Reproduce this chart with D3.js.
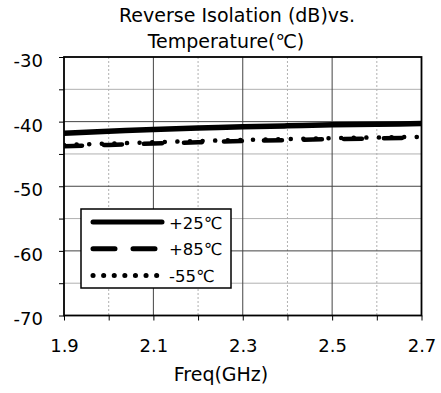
<!DOCTYPE html>
<html><head><meta charset="utf-8">
<script src="https://cdn.jsdelivr.net/npm/d3@7/dist/d3.min.js"></script>
<style>body{margin:0;background:#fff}svg{display:block}text{font-family:"DejaVu Sans",Verdana,sans-serif;fill:#000}</style>
</head><body><svg id="c" width="441" height="393"></svg>
<script>
const freq = [1.9, 2.0, 2.1, 2.2, 2.3, 2.4, 2.5, 2.6, 2.7];
const s25 = [-41.8, -41.5, -41.2, -41.0, -40.8, -40.65, -40.5, -40.4, -40.3];
const s85 = [-43.8, -43.6, -43.4, -43.2, -43.0, -42.85, -42.7, -42.6, -42.5];
const sm55 = [-43.6, -43.4, -43.2, -43.0, -42.85, -42.7, -42.55, -42.45, -42.35];
const seriesNames = ["+25℃", "+85℃", "-55℃"];
const xTicks = [1.9, 2.1, 2.3, 2.5, 2.7];
const yTicks = [-30, -40, -50, -60, -70];
const titleLines = ["Reverse Isolation (dB)vs.", "Temperature(℃)"];
const xLabel = "Freq(GHz)";

const svg = d3.select("#c");
const L = 64, R = 421.5, T = 57, B = 315.5;
const x = d3.scaleLinear().domain([1.9, 2.7]).range([L, R]);
const y = d3.scaleLinear().domain([-70, -30]).range([B, T]);
const FF = '"DejaVu Sans",Verdana,sans-serif';

// minor horizontal grid
svg.append("g").selectAll("line").data(d3.range(-65, -30, 10)).join("line")
  .attr("x1", L).attr("x2", R).attr("y1", d => y(d)).attr("y2", d => y(d))
  .attr("stroke", "#b0b0b0").attr("stroke-width", 1);
// minor vertical dotted
svg.append("g").selectAll("line").data([2.0, 2.2, 2.4, 2.6]).join("line")
  .attr("x1", d => x(d)).attr("x2", d => x(d)).attr("y1", T).attr("y2", B)
  .attr("stroke", "#b0b0b0").attr("stroke-width", 1).attr("stroke-dasharray", "2,2");
// major grid
svg.append("g").selectAll("line").data([-40, -50, -60]).join("line")
  .attr("x1", L).attr("x2", R).attr("y1", d => y(d)).attr("y2", d => y(d))
  .attr("stroke", "#444").attr("stroke-width", 1);
svg.append("g").selectAll("line").data([2.1, 2.3, 2.5]).join("line")
  .attr("x1", d => x(d)).attr("x2", d => x(d)).attr("y1", T).attr("y2", B)
  .attr("stroke", "#444").attr("stroke-width", 1);

// axes
const yAxis = d3.axisLeft(y).tickValues(d3.range(-70, -29, 5)).tickSize(5)
  .tickFormat(d => yTicks.includes(d) ? d : "");
const gy = svg.append("g").attr("transform", `translate(${L},0)`).call(yAxis);
gy.select(".domain").remove();
gy.selectAll("line").attr("stroke", "#000");
gy.selectAll("text").attr("font-size", 18).attr("x", -21).attr("dy", "0.52em").style("font-family", FF);

const xAxis = d3.axisBottom(x).tickValues(d3.range(0, 9).map(i => 1.9 + i * 0.1)).tickSize(5)
  .tickFormat(d => xTicks.some(t => Math.abs(t - d) < 1e-6) ? d.toFixed(1) : "");
const gx = svg.append("g").attr("transform", `translate(0,${B})`).call(xAxis);
gx.select(".domain").remove();
gx.selectAll("line").attr("stroke", "#000");
gx.selectAll("text").attr("font-size", 18).attr("y", 24).style("font-family", FF);

// series
const line = d3.line().x((d, i) => x(freq[i])).y(d => y(d)).curve(d3.curveMonotoneX);
svg.append("clipPath").attr("id", "pc").append("rect").attr("x", L).attr("y", T).attr("width", R - L).attr("height", B - T);
const gs = svg.append("g").attr("clip-path", "url(#pc)");
gs.append("path").attr("d", line(s85)).attr("fill", "none").attr("stroke", "#000").attr("stroke-width", 4.5)
  .attr("stroke-linecap", "round").attr("stroke-dasharray", "18,22");
gs.append("path").attr("d", line(sm55)).attr("fill", "none").attr("stroke", "#000").attr("stroke-width", 4.5)
  .attr("stroke-linecap", "round").attr("stroke-dasharray", "0.1,12.5");
gs.append("path").attr("d", line(s25)).attr("fill", "none").attr("stroke", "#000").attr("stroke-width", 5.5)
  .attr("stroke-linecap", "round");

// frame
svg.append("rect").attr("x", L).attr("y", T).attr("width", R - L).attr("height", B - T)
  .attr("fill", "none").attr("stroke", "#000").attr("stroke-width", 1.8);

// title
const titleX = [237, 226];
svg.append("g").selectAll("text").data(titleLines).join("text")
  .attr("x", (d, i) => titleX[i]).attr("y", (d, i) => 22 + i * 25.5).attr("text-anchor", "middle")
  .attr("font-size", 19).text(d => d);
svg.append("text").attr("x", 221).attr("y", 381).attr("text-anchor", "middle").attr("font-size", 19).text(xLabel);

// legend
const lg = svg.append("g");
lg.append("rect").attr("x", 81).attr("y", 209).attr("width", 150).attr("height", 79)
  .attr("fill", "#fff").attr("stroke", "#000").attr("stroke-width", 1.5);
const dashes = [null, "22,18", "0.1,10.5"];
seriesNames.forEach((n, i) => {
  const yy = 222 + i * 26.8;
  const ln = lg.append("line").attr("x1", 93).attr("x2", 162).attr("y1", yy).attr("y2", yy)
    .attr("stroke", "#000").attr("stroke-width", 5).attr("stroke-linecap", "round");
  if (dashes[i]) ln.attr("stroke-dasharray", dashes[i]);
  lg.append("text").attr("x", 169).attr("y", yy + 6.5).attr("font-size", 16.5).text(n);
});
</script></body></html>
